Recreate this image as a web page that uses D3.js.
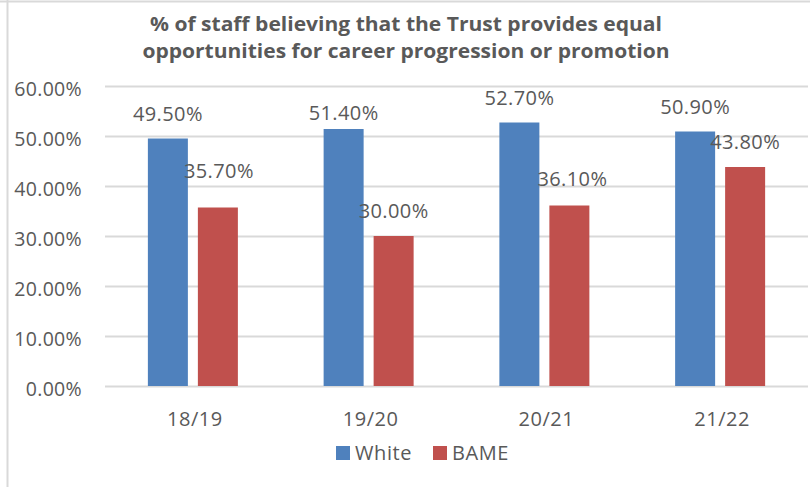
<!DOCTYPE html>
<html>
<head>
<meta charset="utf-8">
<script src="https://cdn.jsdelivr.net/npm/d3@7"></script>
<style>
  html, body { margin: 0; padding: 0; background: #fff; }
  svg { display: block; }
  text { font-family: "Open Sans", "Noto Sans", Arial, sans-serif; fill: #595959; }
</style>
</head>
<body>
<svg id="chart" width="810" height="487"></svg>
<script>
// Survey years and the share of staff in each group answering positively
const years = ["18/19", "19/20", "20/21", "21/22"];
const seriesNames = ["White", "BAME"];
const white = [0.495, 0.514, 0.527, 0.509];
const bame = [0.357, 0.300, 0.361, 0.438];
const yTicks = [0, 0.1, 0.2, 0.3, 0.4, 0.5, 0.6];
const titleLines = [
  "% of staff believing that the Trust provides equal",
  "opportunities for career progression or promotion"
];

const colors = { White: "#4f81bd", BAME: "#c0504d" };
const values = { White: white, BAME: bame };

const svg = d3.select("#chart");
const W = 810, H = 487;
const plot = { left: 105, right: 808, top: 86, bottom: 386 };
const FONT = "'Open Sans', 'Noto Sans', Arial, sans-serif";

// frame of the chart area
svg.append("line").attr("x1", 0).attr("x2", W).attr("y1", 1.5).attr("y2", 1.5)
  .attr("stroke", "#d9d9d9").attr("stroke-width", 2);
svg.append("line").attr("x1", 7.5).attr("x2", 7.5).attr("y1", 0).attr("y2", H)
  .attr("stroke", "#d9d9d9").attr("stroke-width", 2);

// title
const title = svg.append("g");
const titleWidths = [512, 527];
titleLines.forEach((t, i) => {
  title.append("text")
    .attr("x", 406).attr("y", 31 + i * 27)
    .attr("text-anchor", "middle")
    .attr("font-size", 19.5).attr("font-weight", "bold")
    .attr("textLength", titleWidths[i]).attr("lengthAdjust", "spacingAndGlyphs")
    .text(t);
});

const x0 = d3.scaleBand().domain(years).range([plot.left, plot.right]).padding(0);
const x1 = d3.scaleBand().domain(seriesNames).range([-45, 45]).paddingInner(0.2).paddingOuter(0);
const y = d3.scaleLinear().domain([0, 0.6]).range([plot.bottom, plot.top]);
const pct = d3.format(".2%");

// gridlines and y-axis labels
const yAxis = d3.axisLeft(y).tickValues(yTicks).tickFormat(pct)
  .tickSize(-(plot.right - plot.left)).tickPadding(23);
const yg = svg.append("g").attr("transform", `translate(${plot.left},0)`).call(yAxis);
yg.select(".domain").remove();
yg.selectAll(".tick line").attr("stroke", "#d9d9d9").attr("stroke-width", 2);
yg.selectAll(".tick text")
  .attr("font-size", 19.5).attr("letter-spacing", 0.3)
  .attr("dy", "0.5em").attr("fill", "#595959")
  .style("font-family", FONT);

// category labels
const xAxis = d3.axisBottom(x0).tickSize(0).tickPadding(0);
const xg = svg.append("g").attr("transform", `translate(0,${plot.bottom})`).call(xAxis);
xg.select(".domain").remove();
xg.selectAll(".tick text")
  .attr("font-size", 20).attr("letter-spacing", 0.5).attr("y", 40).attr("dy", 0)
  .attr("dx", 2).attr("fill", "#595959")
  .style("font-family", FONT);

// bars, grouped by year
const rows = years.flatMap((yr, i) => seriesNames.map(s => ({ year: yr, series: s, value: values[s][i] })));

svg.append("g").selectAll("rect").data(rows).join("rect")
  .attr("x", d => x0(d.year) + x0.bandwidth() / 2 + x1(d.series))
  .attr("y", d => y(d.value))
  .attr("width", x1.bandwidth())
  .attr("height", d => y(0) - y(d.value))
  .attr("fill", d => colors[d.series]);

// value labels, a few sit away from the default spot above their bar
const nudge = {
  "White 19/20": [0, 9],
  "BAME 18/19": [1, -12],
  "BAME 20/21": [3, -2]
};
const off = d => nudge[d.series + " " + d.year] || [0, 0];
svg.append("g").selectAll("text").data(rows).join("text")
  .attr("x", d => x0(d.year) + x0.bandwidth() / 2 + x1(d.series) + x1.bandwidth() / 2 + off(d)[0])
  .attr("y", d => y(d.value) - 18 + off(d)[1])
  .attr("text-anchor", "middle")
  .attr("font-size", 20).attr("letter-spacing", 0.4)
  .text(d => pct(d.value));

// legend
const legend = svg.append("g");
const legendItems = [
  { name: "White", sx: 336, tx: 355 },
  { name: "BAME", sx: 433, tx: 452 }
];
legendItems.forEach(it => {
  legend.append("rect").attr("x", it.sx).attr("y", 446).attr("width", 14).attr("height", 14)
    .attr("fill", colors[it.name]);
  legend.append("text").attr("x", it.tx).attr("y", 460)
    .attr("font-size", 20).attr("letter-spacing", 0.6).text(it.name);
});
</script>
</body>
</html>
